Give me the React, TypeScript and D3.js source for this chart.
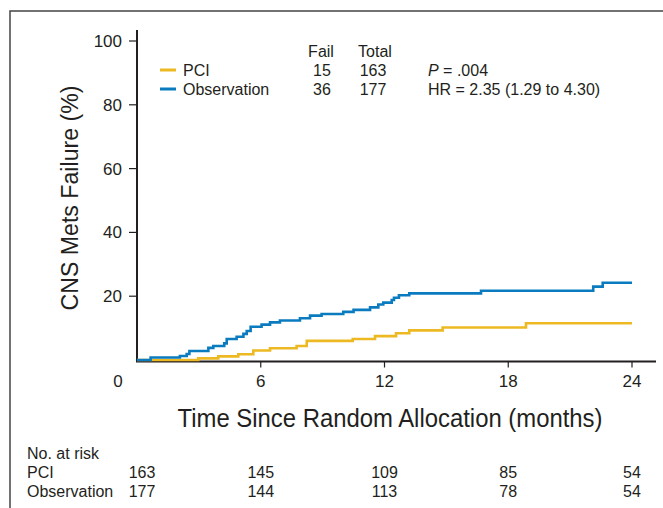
import React, { useEffect, useRef } from 'react';
import * as d3 from 'd3';

// Cumulative CNS metastasis failure (%)
const obsTimes = [0, 0.66, 2.08, 2.41, 2.54, 3.46, 3.7, 4.23, 4.35, 4.83, 5.16, 5.32, 5.51, 6.04, 6.45, 6.93, 7.9, 8.39, 8.95, 10.0, 10.5, 11.3, 11.7, 11.94, 12.35, 12.46, 12.7, 13.2, 16.68, 22.12, 22.58, 24];
const obsFail = [0, 0.8, 1.25, 1.9, 2.8, 3.8, 4.4, 5.2, 6.6, 7.3, 8.2, 9.1, 10.4, 11.1, 11.8, 12.4, 13.1, 13.9, 14.4, 15.1, 15.7, 16.5, 17.4, 18.0, 18.8, 19.5, 20.3, 20.9, 21.7, 23.0, 24.2, 24.2];

const pciTimes = [0, 2.97, 3.94, 4.91, 5.64, 6.45, 7.74, 8.23, 10.46, 11.54, 12.56, 13.2, 14.82, 18.86, 24];
const pciFail = [0, 0.5, 1.15, 1.8, 3.0, 3.7, 4.4, 6.0, 6.6, 7.5, 8.4, 9.3, 10.2, 11.5, 11.5];

const xTicks = [6, 12, 18, 24];
const yTicks = [20, 40, 60, 80, 100];
const riskTimes = [0, 6, 12, 18, 24];
const riskPci = [163, 145, 109, 85, 54];
const riskObs = [177, 144, 113, 78, 54];

const legendRows = [
  { name: 'PCI', fail: 15, total: 163, color: '#edb922' },
  { name: 'Observation', fail: 36, total: 177, color: '#0b7bc0' },
];

const FONT = "'Liberation Sans', Arial, Helvetica, sans-serif";
const INK = '#231f20';

export default function App() {
  const svgRef = useRef<SVGSVGElement>(null);

  useEffect(() => {
    if (!svgRef.current) return;
    const svg = d3.select(svgRef.current);
    svg.selectAll('*').remove();
    svg.attr('font-family', FONT).attr('fill', INK);

    const x = d3.scaleLinear().domain([0, 24]).range([137, 632]);
    const y = d3.scaleLinear().domain([0, 100]).range([360, 41]);
    const axisY = y(0) + 1.5;

    // outer frame (top and left only)
    svg.append('path')
      .attr('d', 'M10,508 L10,11 L663,11')
      .attr('fill', 'none')
      .attr('stroke', '#444')
      .attr('stroke-width', 1.5);

    // axes (drawn under the curves)
    svg.append('line')
      .attr('x1', x(0)).attr('x2', x(0))
      .attr('y1', 30).attr('y2', axisY)
      .attr('stroke', INK).attr('stroke-width', 2);
    svg.append('line')
      .attr('x1', x(0) - 1).attr('x2', 656)
      .attr('y1', axisY).attr('y2', axisY)
      .attr('stroke', INK).attr('stroke-width', 2);

    yTicks.forEach(t => {
      svg.append('line')
        .attr('x1', x(0) - 8).attr('x2', x(0))
        .attr('y1', y(t)).attr('y2', y(t))
        .attr('stroke', INK).attr('stroke-width', 1.2);
      svg.append('text')
        .attr('x', 122).attr('y', y(t) + 6)
        .attr('text-anchor', 'end')
        .attr('font-size', 17)
        .text(t);
    });

    xTicks.forEach(t => {
      svg.append('line')
        .attr('x1', x(t)).attr('x2', x(t))
        .attr('y1', axisY).attr('y2', axisY + 6)
        .attr('stroke', INK).attr('stroke-width', 1.2);
      svg.append('text')
        .attr('x', x(t)).attr('y', 387)
        .attr('text-anchor', 'middle')
        .attr('font-size', 17)
        .text(t);
    });
    svg.append('text')
      .attr('x', x(0) - 19).attr('y', 387)
      .attr('text-anchor', 'middle')
      .attr('font-size', 17)
      .text(0);

    // curves
    const line = d3.line<[number, number]>()
      .x(d => x(d[0]))
      .y(d => y(d[1]))
      .curve(d3.curveStepAfter);

    const series = [
      { t: pciTimes, v: pciFail, color: legendRows[0].color },
      { t: obsTimes, v: obsFail, color: legendRows[1].color },
    ];
    series.forEach(s => {
      svg.append('path')
        .datum(s.t.map((t, i) => [t, s.v[i]] as [number, number]))
        .attr('fill', 'none')
        .attr('stroke', s.color)
        .attr('stroke-width', 2.6)
        .attr('d', line);
    });

    // axis titles
    svg.append('text')
      .attr('transform', 'translate(78,198) rotate(-90)')
      .attr('text-anchor', 'middle')
      .attr('font-size', 23)
      .attr('textLength', 225)
      .attr('lengthAdjust', 'spacingAndGlyphs')
      .text('CNS Mets Failure (%)');

    svg.append('text')
      .attr('x', 390).attr('y', 427)
      .attr('text-anchor', 'middle')
      .attr('font-size', 25)
      .attr('textLength', 425)
      .attr('lengthAdjust', 'spacingAndGlyphs')
      .text('Time Since Random Allocation (months)');

    // legend
    const lg = svg.append('g').attr('font-size', 16);
    lg.append('text').attr('x', 321).attr('y', 57).attr('text-anchor', 'middle').text('Fail');
    lg.append('text').attr('x', 375).attr('y', 57).attr('text-anchor', 'middle').text('Total');
    legendRows.forEach((r, i) => {
      const by = 76 + i * 19;
      lg.append('line')
        .attr('x1', 160).attr('x2', 176)
        .attr('y1', by - 6).attr('y2', by - 6)
        .attr('stroke', r.color).attr('stroke-width', 3);
      lg.append('text').attr('x', 183).attr('y', by).text(r.name);
      lg.append('text').attr('x', 322).attr('y', by).attr('text-anchor', 'middle').text(r.fail);
      lg.append('text').attr('x', 373).attr('y', by).attr('text-anchor', 'middle').text(r.total);
    });
    const pText = lg.append('text').attr('x', 428).attr('y', 76);
    pText.append('tspan').attr('font-style', 'italic').text('P');
    pText.append('tspan').text(' = .004');
    lg.append('text').attr('x', 428).attr('y', 95).text('HR = 2.35 (1.29 to 4.30)');

    // number at risk
    const rk = svg.append('g').attr('font-size', 16);
    rk.append('text').attr('x', 27).attr('y', 459).text('No. at risk');
    rk.append('text').attr('x', 27).attr('y', 478).text('PCI');
    rk.append('text').attr('x', 27).attr('y', 497).text('Observation');
    riskTimes.forEach((t, i) => {
      const cx = i === 0 ? x(t) + 5 : x(t);
      rk.append('text').attr('x', cx).attr('y', 478).attr('text-anchor', 'middle').text(riskPci[i]);
      rk.append('text').attr('x', cx).attr('y', 497).attr('text-anchor', 'middle').text(riskObs[i]);
    });
  }, []);

  return (
    <div style={{ position: 'absolute', left: 0, top: 0, background: '#fff' }}>
      <svg ref={svgRef} width={663} height={508} style={{ display: 'block' }}></svg>
    </div>
  );
}
